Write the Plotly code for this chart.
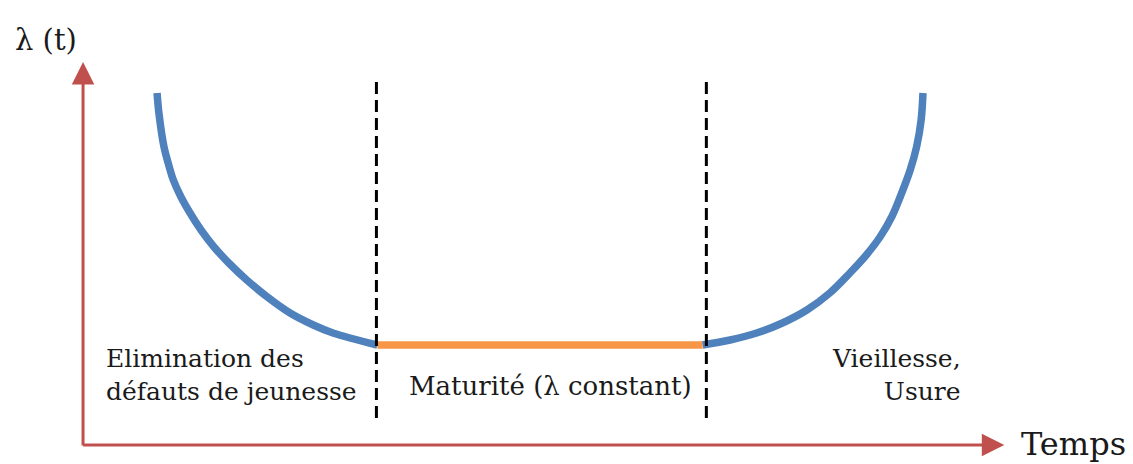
import plotly.graph_objects as go

# Bathtub curve data (time in arbitrary units, failure rate in arbitrary units)
t_early = [8.1, 8.3, 8.86, 9.33, 9.88, 10.69, 11.71, 12.91, 14.33, 16.0, 17.91, 20.1, 22.65, 25.2, 27.35, 32.2]
lam_early = [70.4, 66.4, 59.6, 56.3, 53.0, 49.7, 46.4, 43.0, 39.6, 36.3, 33.0, 29.7, 26.4, 24.0, 22.4, 20.0]
t_mature = [32.2, 67.8]
lam_mature = [20.0, 20.0]
t_wear = [67.8, 70.8, 73.7, 76.4, 79.2, 81.7, 83.9, 85.7, 87.2, 88.5, 89.4, 90.5, 91.2, 91.7, 91.9]
lam_wear = [20.0, 21.0, 22.4, 24.3, 27.0, 30.4, 34.4, 38.0, 41.6, 45.7, 49.6, 55.0, 59.6, 65.0, 70.4]
phase_bounds = [32.1, 68.2]
bound_span = [5.4, 73.0]

phase_labels = ["Elimination des<br>défauts de jeunesse", "Maturité (λ constant)", "Vieillesse,<br>Usure"]
y_label = "λ (t)"
x_label = "Temps"

BLUE = "#4f81bd"
ORANGE = "#f79646"
AXIS = "#c0504d"
FONT = "DejaVu Serif"
TXT = "#1a1a1a"

fig = go.Figure()
fig.add_trace(go.Scatter(x=t_early, y=lam_early, mode="lines",
                         line=dict(color=BLUE, width=7.5, shape="spline", smoothing=1.0),
                         hoverinfo="skip", showlegend=False))
fig.add_trace(go.Scatter(x=t_mature, y=lam_mature, mode="lines",
                         line=dict(color=ORANGE, width=7.5),
                         hoverinfo="skip", showlegend=False))
fig.add_trace(go.Scatter(x=t_wear, y=lam_wear, mode="lines",
                         line=dict(color=BLUE, width=7.5, shape="spline", smoothing=1.0),
                         hoverinfo="skip", showlegend=False))
for b in phase_bounds:
    fig.add_trace(go.Scatter(x=[b, b], y=bound_span, mode="lines",
                             line=dict(color="black", width=3, dash="12px,6px"),
                             hoverinfo="skip", showlegend=False))

annotations = [
    # axes arrows
    dict(x=0, y=76.6, ax=0, ay=-0.4, xref="x", yref="y", axref="x", ayref="y",
         showarrow=True, arrowhead=2, arrowsize=1.5, arrowwidth=3, arrowcolor=AXIS,
         text="", standoff=0),
    dict(x=100.8, y=0, ax=-0.15, ay=0, xref="x", yref="y", axref="x", ayref="y",
         showarrow=True, arrowhead=2, arrowsize=1.5, arrowwidth=3, arrowcolor=AXIS,
         text="", standoff=0),
    dict(x=-4.1, y=81.0, text=y_label, showarrow=False, xanchor="center", yanchor="middle",
         font=dict(family=FONT, size=29, color=TXT)),
    dict(x=102.4, y=0.2, text=x_label, showarrow=False, xanchor="left", yanchor="middle",
         font=dict(family=FONT, size=32, color=TXT)),
    dict(x=2.3, y=14.0, text=phase_labels[0], showarrow=False, xanchor="left", yanchor="middle",
         align="left", font=dict(family=FONT, size=25, color=TXT)),
    dict(x=51.1, y=11.8, text=phase_labels[1], showarrow=False, xanchor="center", yanchor="middle",
         font=dict(family=FONT, size=26, color=TXT)),
    dict(x=96.3, y=14.0, text=phase_labels[2], showarrow=False, xanchor="right", yanchor="middle",
         align="right", font=dict(family=FONT, size=25, color=TXT)),
]

fig.update_layout(
    width=1125, height=456,
    margin=dict(l=0, r=0, t=0, b=0),
    paper_bgcolor="white", plot_bgcolor="white",
    xaxis=dict(range=[-8.21, 114.88], visible=False, fixedrange=True),
    yaxis=dict(range=[-3.8, 87.4], visible=False, fixedrange=True),
    annotations=annotations,
    showlegend=False,
)

fig.write_html("out.html")
